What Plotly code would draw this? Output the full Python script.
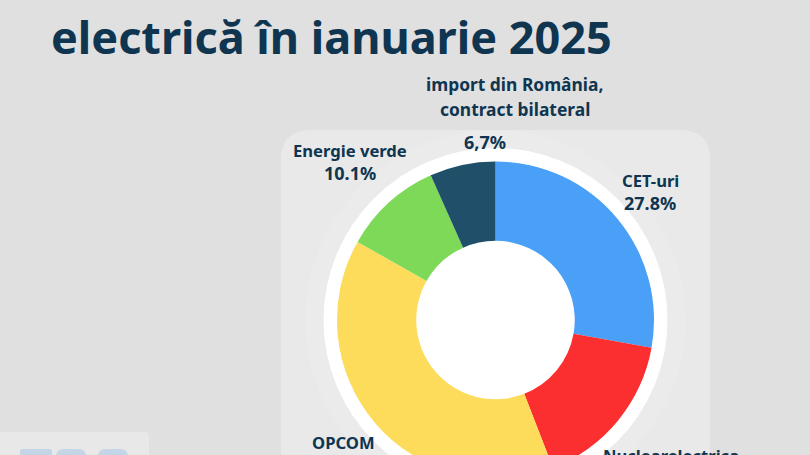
import plotly.graph_objects as go

# Shares of purchased electricity, January 2025
categories = ["CET-uri", "Nuclearelectrica", "OPCOM", "Energie verde", "import din România,<br>contract bilateral"]
shares = [27.8, 16.3, 39.1, 10.1, 6.7]
share_labels = ["27.8%", "16.3%", "39.1%", "10.1%", "6,7%"]
colors = ["#4aa0f6", "#fb2f2f", "#fedc5b", "#7fd958", "#1f4f69"]
title_text = "electrică în ianuarie 2025"

# The page is taller than the window, the chart runs off the bottom like the original
W, H = 810, 530
CX, CY, R = 495.5, 320, 158.5
NAVY = "#0f3550"
FONT = "Noto Sans"

# text line positions in page pixels, one list per category, name lines then value
line_pos = [
    [(650, 180), (650, 202.5)],
    [(670.5, 455), (671, 478)],
    [(343.5, 442), (344, 465)],
    [(349.5, 150), (350, 173)],
    [(514.5, 84), (515, 109), (485, 142)],
]


def rounded(x0, y0, x1, y1, r, color):
    path = (f"M {x0 + r} {y0} L {x1 - r} {y0} Q {x1} {y0} {x1} {y0 + r} L {x1} {y1 - r} "
            f"Q {x1} {y1} {x1 - r} {y1} L {x0 + r} {y1} Q {x0} {y1} {x0} {y1 - r} "
            f"L {x0} {y0 + r} Q {x0} {y0} {x0 + r} {y0} Z")
    return dict(type="path", xref="x", yref="y", path=path, fillcolor=color, line_width=0, layer="below")


shapes = [
    rounded(281, 130, 710, 600, 30, "#e9e9e9"),
    rounded(-20, 432, 149, 600, 4, "#e8e8e8"),
    rounded(20, 449, 52, 480, 2, "#c3d5e6"),
    rounded(56, 449, 86, 480, 8, "#c3d5e6"),
    rounded(98, 449, 128, 480, 8, "#c3d5e6"),
]
for r, c in [(190, "#ebebeb"), (172, "#ffffff")]:
    shapes.append(dict(type="circle", xref="x", yref="y", x0=CX - r, x1=CX + r,
                       y0=CY - r, y1=CY + r, fillcolor=c, line_width=0, layer="below"))

fig = go.Figure()
fig.add_trace(go.Pie(
    labels=categories, values=shares, hole=0.5, sort=False, direction="clockwise", rotation=0,
    marker=dict(colors=colors, line=dict(width=0)), textinfo="none", showlegend=False,
    domain=dict(x=[(CX - R) / W, (CX + R) / W], y=[(H - CY - R) / H, (H - CY + R) / H]),
))

annotations = []
for name, val, pos in zip(categories, share_labels, line_pos):
    lines = name.split("<br>") + [val]
    for i, (line, (x, y)) in enumerate(zip(lines, pos)):
        size = 18 if i == len(lines) - 1 else (17.4 if len(lines) == 3 else 16.6)
        annotations.append(dict(x=x, y=y, text=f"<b>{line}</b>", showarrow=False, xref="x", yref="y",
                                font=dict(family=FONT, size=size, color=NAVY)))
annotations.append(dict(x=49, y=36, text=f"<b>{title_text}</b>", showarrow=False, xref="x", yref="y",
                        xanchor="left", font=dict(family=FONT, size=45, color=NAVY)))

fig.update_layout(
    width=W, height=H, margin=dict(l=0, r=0, t=0, b=0),
    paper_bgcolor="#e0e0e0", plot_bgcolor="rgba(0,0,0,0)",
    xaxis=dict(range=[0, W], visible=False, fixedrange=True),
    yaxis=dict(range=[H, 0], visible=False, fixedrange=True),
    shapes=shapes, annotations=annotations,
)
fig.write_html("out.html", config=dict(displayModeBar=False),
               post_script="document.body.style.margin='0';document.body.style.overflow='hidden';document.documentElement.style.overflow='hidden';document.body.style.background='#e0e0e0';")
